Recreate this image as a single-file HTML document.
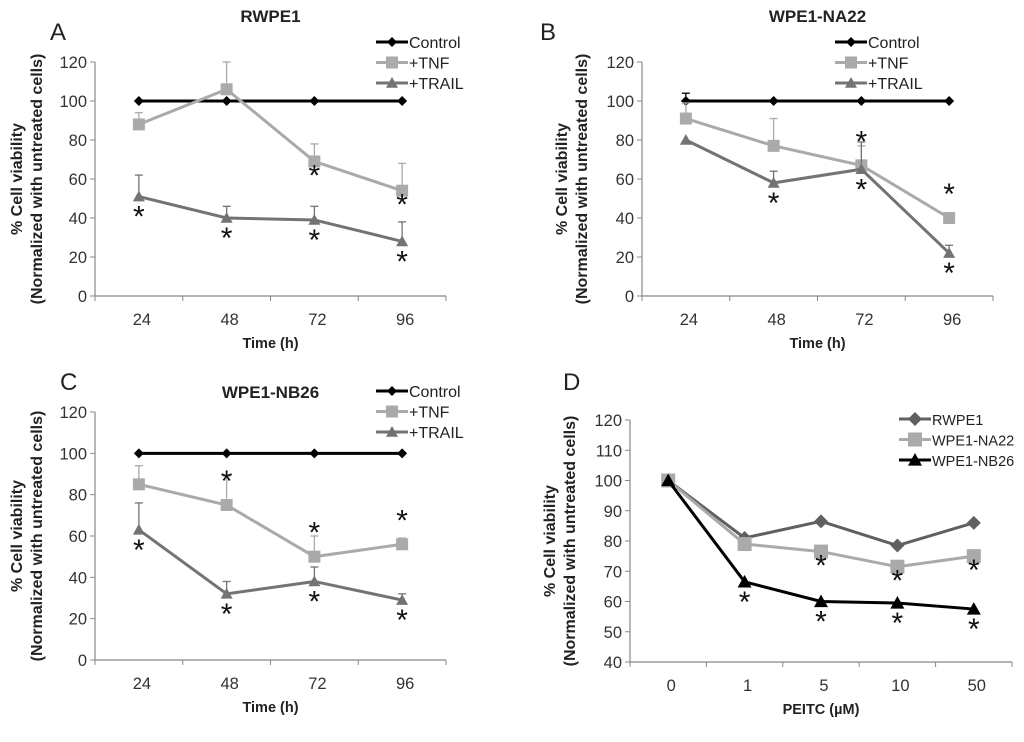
<!DOCTYPE html>
<html><head><meta charset="utf-8"><style>
body{margin:0;background:#fff}
svg{font-family:"Liberation Sans",Arial,sans-serif}
</style></head><body>
<svg id="fig" width="1024" height="737" viewBox="0 0 1024 737" xmlns="http://www.w3.org/2000/svg"></svg>
<script>
// Panel A (RWPE1)
const timeCats = ["24","48","72","96"];
const aControl = [100,100,100,100];
const aTnf = [88,106,69,54];
const aTnfErr = [94,120,78,68];
const aTrail = [51,40,39,28];
const aTrailErr = [62,46,46,38];
const aTnfStar = [false,false,true,true];
const aTrailStar = [true,true,true,true];
// Panel B (WPE1-NA22)
const bControl = [100,100,100,100];
const bControlErr = [104,100,100,100];
const bTnf = [91,77,67,40];
const bTnfErr = [99,91,77,42];
const bTrail = [80,58,65,22];
const bTrailErr = [80,64,79,26];
const bTnfStar = [false,false,true,true];
const bTrailStar = [false,true,true,true];
// Panel C (WPE1-NB26)
const cControl = [100,100,100,100];
const cTnf = [85,75,50,56];
const cTnfErr = [94,89,60,59];
const cTrail = [63,32,38,29];
const cTrailErr = [76,38,45,32];
const cTnfStar = [false,true,true,true];
const cTrailStar = [true,true,true,true];
// Panel D (PEITC)
const doseCats = ["0","1","5","10","50"];
const dRwpe = [100,81,86.5,78.5,86];
const dNa22 = [100,79,76.5,71.5,75];
const dNb26 = [100,66.5,60,59.5,57.5];
const dNa22Star = [false,false,true,true,true];
const dNb26Star = [false,true,true,true,true];
const ticks120 = [0,20,40,60,80,100,120];
const ticksD = [40,50,60,70,80,90,100,110,120];

const NS="http://www.w3.org/2000/svg";
const svg=document.getElementById('fig');
function el(tag,attrs,parent){const e=document.createElementNS(NS,tag);for(const k in attrs)e.setAttribute(k,attrs[k]);(parent||svg).appendChild(e);return e;}
function txt(s,attrs,parent){const t=el('text',attrs,parent);t.textContent=s;return t;}

function marker(g,shape,x,y,color,size){
  let m;
  if(shape==='diamond') m=el('polygon',{points:`${x},${y-size} ${x+size},${y} ${x},${y+size} ${x-size},${y}`,fill:color},g);
  else if(shape==='square') m=el('rect',{x:x-size,y:y-size,width:size*2,height:size*2,fill:color},g);
  else m=el('polygon',{points:`${x},${y-size} ${x+size},${y+size*0.8} ${x-size},${y+size*0.8}`,fill:color},g);
  return m;
}

function panel(cfg){
  const g=el('g',{});
  
  
  const {x0,x1,yTop,yBot,vmin,vmax}=cfg;
  const n=cfg.cats.length, step=(x1-x0)/n;
  const X=i=>x0+step*(i+0.5);
  const Y=v=>yBot-(v-vmin)/(vmax-vmin)*(yBot-yTop);
  const ya=el('line',{x1:x0,y1:yTop,x2:x0,y2:yBot,stroke:'#888','stroke-width':1.2},g);
  
  const xa=el('line',{x1:x0,y1:yBot,x2:x1,y2:yBot,stroke:'#888','stroke-width':1.2},g);
  
  cfg.ticks.forEach(v=>{
    el('line',{x1:x0-5,y1:Y(v),x2:x0,y2:Y(v),stroke:'#888'},g);
    const t=txt(String(v),{x:x0-8,y:Y(v)+6,'text-anchor':'end','font-size':16.5,fill:'#333'},g);
    
  });
  for(let i=0;i<=n;i++) el('line',{x1:x0+step*i,y1:yBot,x2:x0+step*i,y2:yBot+5,stroke:'#888'},g);
  cfg.cats.forEach((c,i)=>{
    const t=txt(c,{x:X(i)+3,y:yBot+29,'text-anchor':'middle','font-size':16.5,fill:'#333'},g);
    
  });
  cfg.series.forEach(s=>{
    const sg=el('g',{},g);
    
    
    if(s.err) s.err.forEach((e,i)=>{
      if(e>s.vals[i]){el('line',{x1:X(i),y1:Y(s.vals[i]),x2:X(i),y2:Y(e),stroke:s.color,'stroke-width':1.3},sg);
      el('line',{x1:X(i)-4,y1:Y(e),x2:X(i)+4,y2:Y(e),stroke:s.color,'stroke-width':1.3},sg);}
    });
    el('polyline',{points:s.vals.map((v,i)=>X(i)+','+Y(v)).join(' '),fill:'none',stroke:s.color,'stroke-width':3},sg);
    s.vals.forEach((v,i)=>{const m=marker(sg,s.shape,X(i),Y(v),s.color,s.size);
      });
    if(s.stars) s.stars.forEach((st,i)=>{ if(st){
      const t=txt('*',{x:X(i),y:Y(s.vals[i])+s.starDy,'text-anchor':'middle','font-size':30,fill:'#111'},sg);
      }});
  });
  cfg.series.forEach((s,i)=>{
    const ly=cfg.legY+i*20.5, lx=cfg.legX;
    const lg=el('g',{},g);
    
    
    el('line',{x1:lx,y1:ly,x2:lx+32,y2:ly,stroke:s.color,'stroke-width':3},lg);
    marker(lg,s.shape,lx+16,ly,s.color,s.size);
    txt(s.label,{x:lx+33,y:ly+6,'font-size':cfg.legFont,fill:'#222'},lg);
  });
  if(cfg.title){const t=txt(cfg.title,{x:(x0+x1)/2,y:cfg.titleY,'text-anchor':'middle','font-size':17,'font-weight':'bold',fill:'#222'},g);
    }
  const L=txt(cfg.letter,{x:cfg.letterX,y:cfg.letterY,'font-size':24,fill:'#222'},g);
  
  const xt=txt(cfg.xTitle,{x:(x0+x1)/2,y:yBot+52,'text-anchor':'middle','font-size':14.5,'font-weight':'bold',fill:'#222'},g);
  
  const yc=(yTop+yBot)/2, yx=cfg.yTitleX;
  const yt=txt('',{transform:`translate(${yx},${yc}) rotate(-90)`,'text-anchor':'middle','font-size':16,'font-weight':'bold',fill:'#222'},g);
  
  const t1=el('tspan',{x:0,y:0},yt);t1.textContent='% Cell viability';
  const t2=el('tspan',{x:0,y:20},yt);t2.textContent='(Normalized with untreated cells)';
}

const K='#000',TNF='#aaa',TR='#737373';
panel({name:'panel-a-rwpe1',cats:timeCats,x0:95,x1:446,yTop:62,yBot:296,vmin:0,vmax:120,ticks:ticks120,legFont:16,
 title:'RWPE1',titleY:22,letter:'A',letterX:50,letterY:40,xTitle:'Time (h)',yTitleX:22,legX:376,legY:42,
 series:[{name:'control-series',label:'Control',vals:aControl,color:K,shape:'diamond',size:5},
  {name:'tnf-series',label:'+TNF',vals:aTnf,err:aTnfErr,color:TNF,shape:'square',size:6,stars:aTnfStar,starDy:24},
  {name:'trail-series',label:'+TRAIL',vals:aTrail,err:aTrailErr,color:TR,shape:'tri',size:6,stars:aTrailStar,starDy:30}]});
panel({name:'panel-b-wpe1-na22',cats:timeCats,x0:642,x1:993,yTop:62,yBot:296,vmin:0,vmax:120,ticks:ticks120,legFont:16,
 title:'WPE1-NA22',titleY:22,letter:'B',letterX:540,letterY:40,xTitle:'Time (h)',yTitleX:567,legX:835,legY:42,
 series:[{name:'control-series',label:'Control',vals:bControl,err:bControlErr,color:K,shape:'diamond',size:5},
  {name:'tnf-series',label:'+TNF',vals:bTnf,err:bTnfErr,color:TNF,shape:'square',size:6,stars:bTnfStar,starDy:-14},
  {name:'trail-series',label:'+TRAIL',vals:bTrail,err:bTrailErr,color:TR,shape:'tri',size:6,stars:bTrailStar,starDy:30}]});
panel({name:'panel-c-wpe1-nb26',cats:timeCats,x0:95,x1:446,yTop:412,yBot:660,vmin:0,vmax:120,ticks:ticks120,legFont:16,
 title:'WPE1-NB26',titleY:398,letter:'C',letterX:60,letterY:390,xTitle:'Time (h)',yTitleX:22,legX:376,legY:391,
 series:[{name:'control-series',label:'Control',vals:cControl,color:K,shape:'diamond',size:5},
  {name:'tnf-series',label:'+TNF',vals:cTnf,err:cTnfErr,color:TNF,shape:'square',size:6,stars:cTnfStar,starDy:-14},
  {name:'trail-series',label:'+TRAIL',vals:cTrail,err:cTrailErr,color:TR,shape:'tri',size:6,stars:cTrailStar,starDy:30}]});
panel({name:'panel-d-peitc',cats:doseCats,x0:630,x1:1012,yTop:420,yBot:662,vmin:40,vmax:120,ticks:ticksD,legFont:14.5,
 title:'',letter:'D',letterX:563,letterY:390,xTitle:'PEITC (µM)',yTitleX:555,legX:899,legY:419,
 series:[{name:'rwpe1-series',label:'RWPE1',vals:dRwpe,color:'#606060',shape:'diamond',size:7},
  {name:'na22-series',label:'WPE1-NA22',vals:dNa22,color:TNF,shape:'square',size:7,stars:dNa22Star,starDy:24},
  {name:'nb26-series',label:'WPE1-NB26',vals:dNb26,color:K,shape:'tri',size:7,stars:dNb26Star,starDy:30}]});
</script>
</body></html>
